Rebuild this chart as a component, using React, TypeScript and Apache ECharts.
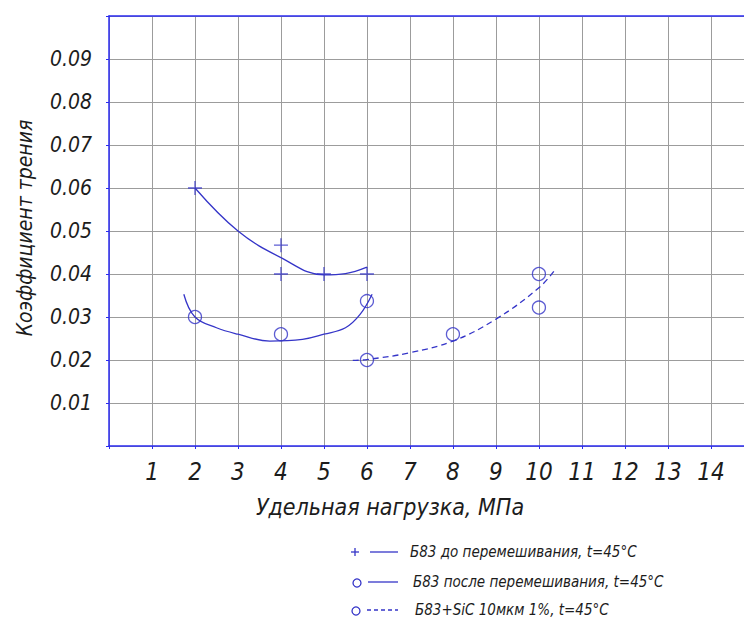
import React, { useEffect, useRef } from "react";
import * as echarts from "echarts";

// Curve through "Б83 до перемешивания"
const curve1X = [2, 3, 4, 5, 5.5, 6];
const curve1Y = [0.06, 0.05, 0.0438, 0.0398, 0.0401, 0.0416];
// "+" markers
const crossX = [2, 4, 4, 5, 6];
const crossY = [0.06, 0.0467, 0.04, 0.04, 0.04];

// Curve through "Б83 после перемешивания"
const curve2X = [1.74, 2, 2.5, 3, 3.74, 4.5, 5, 5.5, 5.84, 6.12];
const curve2Y = [0.0353, 0.03, 0.0275, 0.026, 0.0244, 0.0248, 0.026, 0.0275, 0.0306, 0.0353];
const circle2X = [2, 4, 6];
const circle2Y = [0.03, 0.026, 0.0337];

// Dashed curve "Б83+SiC 10мкм 1%"
const curve3X = [5.67, 6, 7, 8, 9, 10, 10.37];
const curve3Y = [0.0199, 0.0201, 0.0217, 0.0244, 0.0295, 0.0368, 0.0409];
const circle3X = [6, 8, 10, 10];
const circle3Y = [0.02, 0.026, 0.04, 0.0322];

const xTickLabels = ["1", "2", "3", "4", "5", "6", "7", "8", "9", "10", "11", "12", "13", "14"];
const yTickLabels = ["0.01", "0.02", "0.03", "0.04", "0.05", "0.06", "0.07", "0.08", "0.09"];

const legendTexts = [
  "Б83 до перемешивания, t=45°C",
  "Б83 после перемешивания, t=45°C",
  "Б83+SiC 10мкм 1%, t=45°C",
];
const xTitle = "Удельная нагрузка, МПа";
const yTitle = "Коэффициент трения";

const FONT = "'DejaVu Sans Condensed', 'DejaVu Sans', sans-serif";
const MARK = "#3535c8";
const AXIS = "#2b2bf0";
const TEXT = "#1c1c1c";

const zip = (xs: number[], ys: number[]) => xs.map((x, i) => [x, ys[i]]);

export default function App() {
  const ref = useRef<HTMLDivElement>(null);
  useEffect(() => {
    if (!ref.current) return;
    const chart = echarts.init(ref.current, undefined, { renderer: "svg" });
    const plusPath = "path://M6,0L6,12M0,6L12,6";
    // visible part of the x range: the plot is cut off by the right edge of the picture
    const axisBase = {
      type: "value",
      min: 0,
      max: 14.77,
      interval: 1,
    };
    chart.setOption({
      animation: false,
      grid: {
        left: 109,
        top: 16,
        height: 430,
        right: 0,
      },
      xAxis: [
        {
          ...axisBase,
          axisLine: { show: true, onZero: false, lineStyle: { color: AXIS, width: 1.5 } },
          axisTick: { show: true, length: 3, lineStyle: { color: AXIS } },
          splitLine: { show: true, lineStyle: { color: "#9c9c9c", width: 1 } },
          axisLabel: {
            margin: 14,
            fontFamily: FONT,
            fontStyle: "italic",
            fontSize: 24,
            color: TEXT,
            showMaxLabel: false,
            formatter: (v: number) => {
              const i = Math.round(v) - 1;
              return Math.abs(v - Math.round(v)) < 1e-6 && i >= 0 && i < xTickLabels.length ? xTickLabels[i] : "";
            },
          },
        },
        {
          ...axisBase,
          position: "top",
          axisLine: { show: true, onZero: false, lineStyle: { color: AXIS, width: 1.5 } },
          axisTick: { show: false },
          splitLine: { show: false },
          axisLabel: { show: false },
        },
      ],
      yAxis: {
        type: "value",
        min: 0,
        max: 0.1,
        interval: 0.01,
        axisLine: { show: true, onZero: false, lineStyle: { color: AXIS, width: 1.5 } },
        axisTick: { show: true, length: 3, lineStyle: { color: AXIS } },
        splitLine: { show: true, lineStyle: { color: "#9c9c9c", width: 1 } },
        axisLabel: {
          margin: 17,
          fontFamily: FONT,
          fontStyle: "italic",
          fontSize: 21,
          color: TEXT,
          padding: [8, 0, 0, 0],
          formatter: (v: number) => {
            const i = Math.round(v * 100) - 1;
            return i >= 0 && i < yTickLabels.length ? yTickLabels[i] : "";
          },
        },
      },
      series: [
        {
          type: "line",
          data: zip(curve1X, curve1Y),
          smooth: 0.4,
          showSymbol: false,
          lineStyle: { color: MARK, width: 1.3 },
        },
        {
          type: "scatter",
          data: zip(crossX, crossY),
          symbol: plusPath,
          symbolSize: 14,
          itemStyle: { color: "none", borderColor: MARK, borderWidth: 1.3 },
        },
        {
          type: "line",
          data: zip(curve2X, curve2Y),
          smooth: 0.4,
          showSymbol: false,
          lineStyle: { color: MARK, width: 1.3 },
        },
        {
          type: "scatter",
          data: zip(circle2X, circle2Y),
          symbol: "circle",
          symbolSize: 13,
          itemStyle: { color: "transparent", borderColor: MARK, borderWidth: 1.3 },
        },
        {
          type: "line",
          data: zip(curve3X, curve3Y),
          smooth: 0.4,
          showSymbol: false,
          lineStyle: { color: MARK, width: 1.3, type: [6, 4] },
        },
        {
          type: "scatter",
          data: zip(circle3X, circle3Y),
          symbol: "circle",
          symbolSize: 13,
          itemStyle: { color: "transparent", borderColor: MARK, borderWidth: 1.3 },
        },
      ],
      graphic: [
        {
          type: "text",
          x: 390,
          y: 507,
          style: {
            text: xTitle,
            fontFamily: FONT,
            fontStyle: "italic",
            fontSize: 23,
            fill: TEXT,
            align: "center",
            verticalAlign: "middle",
          },
        },
        {
          type: "text",
          x: 25,
          y: 228,
          rotation: Math.PI / 2,
          style: {
            text: yTitle,
            fontFamily: FONT,
            fontStyle: "italic",
            fontSize: 21,
            fill: TEXT,
            align: "center",
            verticalAlign: "middle",
          },
        },
        // legend row 1
        { type: "line", shape: { x1: 351, y1: 552, x2: 359, y2: 552 }, style: { stroke: MARK, lineWidth: 1.3 } },
        { type: "line", shape: { x1: 355, y1: 548, x2: 355, y2: 556 }, style: { stroke: MARK, lineWidth: 1.3 } },
        { type: "line", shape: { x1: 370, y1: 552, x2: 398, y2: 552 }, style: { stroke: MARK, lineWidth: 1.3 } },
        {
          type: "text",
          x: 410,
          y: 552,
          style: { text: legendTexts[0], fontFamily: FONT, fontStyle: "italic", fontSize: 15, fill: TEXT, verticalAlign: "middle" },
        },
        // legend row 2
        { type: "circle", shape: { cx: 357, cy: 583, r: 4 }, style: { fill: "none", stroke: MARK, lineWidth: 1.3 } },
        { type: "line", shape: { x1: 368, y1: 582, x2: 398, y2: 582 }, style: { stroke: MARK, lineWidth: 1.3 } },
        {
          type: "text",
          x: 413,
          y: 582,
          style: { text: legendTexts[1], fontFamily: FONT, fontStyle: "italic", fontSize: 15, fill: TEXT, verticalAlign: "middle" },
        },
        // legend row 3
        { type: "circle", shape: { cx: 356, cy: 611, r: 4 }, style: { fill: "none", stroke: MARK, lineWidth: 1.3 } },
        { type: "line", shape: { x1: 367, y1: 610, x2: 398, y2: 610 }, style: { stroke: MARK, lineWidth: 1.3, lineDash: [4, 3] } },
        {
          type: "text",
          x: 415,
          y: 610,
          style: { text: legendTexts[2], fontFamily: FONT, fontStyle: "italic", fontSize: 15, fill: TEXT, verticalAlign: "middle" },
        },
      ],
    });
    return () => chart.dispose();
  }, []);
  return (
    <div
      ref={ref}
      style={{ position: "fixed", left: 0, top: 0, width: 744, height: 624, background: "#fff" }}
    />
  );
}
